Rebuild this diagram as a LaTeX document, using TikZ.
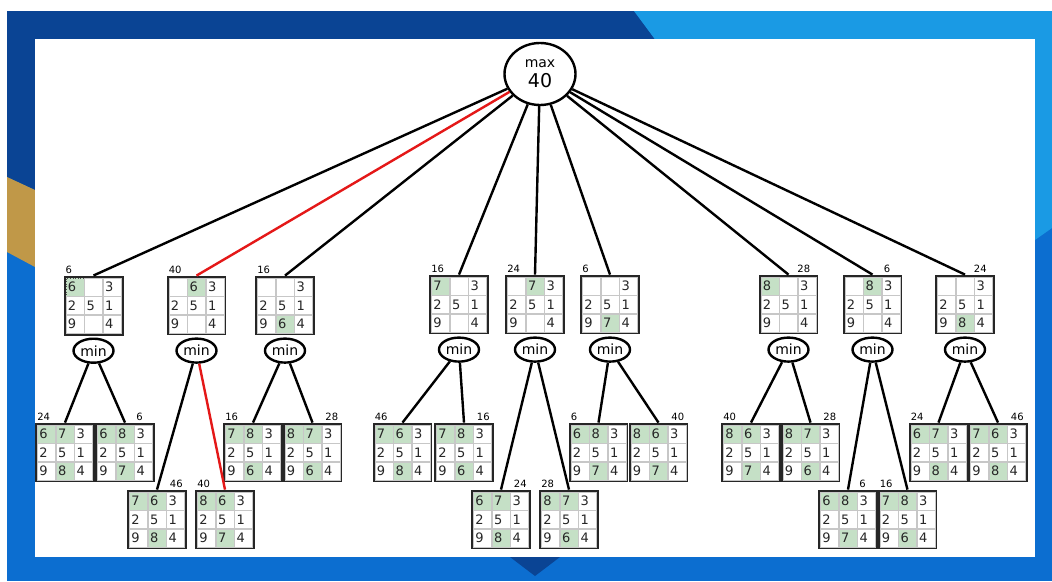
\documentclass[tikz,border=0pt]{standalone}
\usepackage{fontspec}
\setmainfont{DejaVu Sans}
\usetikzlibrary{shapes.geometric,matrix,positioning}

\definecolor{slidenavy}{RGB}{10,68,148}
\definecolor{slideblue}{RGB}{12,110,208}
\definecolor{slidesky}{RGB}{26,154,228}
\definecolor{slidegold}{RGB}{192,152,72}
\definecolor{cellgreen}{RGB}{197,224,198}
\definecolor{pathred}{RGB}{228,24,24}

\begin{document}
\begin{tikzpicture}[x=1pt,y=-1pt,
    link/.style={line width=2.4pt,black},
    max node/.style={ellipse,draw,line width=2.4pt,minimum width=71pt,minimum height=62pt,inner sep=0pt,align=center},
    min node/.style={ellipse,draw,line width=2.4pt,minimum width=40pt,minimum height=24pt,inner sep=0pt,
      font=\fontsize{14}{14}\selectfont},
    board/.style={matrix of nodes,nodes in empty cells,draw=black!85,line width=2pt,inner sep=1pt,
      column sep=0pt,row sep=0pt,nodes={cell}},
    cell/.style={draw=black!22,line width=0.6pt,anchor=center,outer sep=0pt,inner xsep=2pt,inner ysep=0pt,
      text width=14pt,text height=9.5pt,text depth=0pt,minimum height=18pt,align=left,
      font=\fontsize{13}{13}\selectfont,text=black!85},
    moved/.style={fill=cellgreen},
    picked/.style={fill=cellgreen,draw=black!70,dotted,line width=0.8pt},
    score/.style={inner sep=2pt,font=\fontsize{10}{10}\selectfont}]

    \useasboundingbox (0,0) rectangle (1052,581);
    \fill[white] (0,0) rectangle (1052,581);
    \fill[slideblue] (7,11) rectangle (1052,581);
    \fill[slidenavy] (7,11) -- (634,11) -- (700,100) -- (35,100) -- (35,190) -- (7,177) -- cycle;
    \fill[slidegold] (7,177) -- (35,190) -- (35,267) -- (7,252) -- cycle;
    \fill[slidesky] (634,11) -- (1052,11) -- (1052,228) -- (1035,240) -- (1035,100) -- (700,100) -- cycle;
    \fill[slidenavy] (510,557) -- (560,557) -- (535,576) -- cycle;
    \fill[white] (35,39) rectangle (1035,557);

    \node[max node] (Root) at (540,74) {\fontsize{14}{14}\selectfont max\\[5pt]\fontsize{19}{19}\selectfont 40};

    \matrix[board] (FirstMoveA) at (93.5,305.5) {|[picked]| 6 & & 3 \\ 2 & 5 & 1 \\ 9 & & 4 \\};
    \matrix[board] (FirstMoveB) at (196.5,305.5) { & |[moved]| 6 & 3 \\ 2 & 5 & 1 \\ 9 & & 4 \\};
    \matrix[board] (FirstMoveC) at (285,305.5) { & & 3 \\ 2 & 5 & 1 \\ 9 & |[moved]| 6 & 4 \\};
    \matrix[board] (FirstMoveD) at (459,304.5) {|[moved]| 7 & & 3 \\ 2 & 5 & 1 \\ 9 & & 4 \\};
    \matrix[board] (FirstMoveE) at (535,304.5) { & |[moved]| 7 & 3 \\ 2 & 5 & 1 \\ 9 & & 4 \\};
    \matrix[board] (FirstMoveF) at (610,304.5) { & & 3 \\ 2 & 5 & 1 \\ 9 & |[moved]| 7 & 4 \\};
    \matrix[board] (FirstMoveG) at (788.5,304.5) {|[moved]| 8 & & 3 \\ 2 & 5 & 1 \\ 9 & & 4 \\};
    \matrix[board] (FirstMoveH) at (872.5,304.5) { & |[moved]| 8 & 3 \\ 2 & 5 & 1 \\ 9 & & 4 \\};
    \matrix[board] (FirstMoveI) at (965,304.5) { & & 3 \\ 2 & 5 & 1 \\ 9 & |[moved]| 8 & 4 \\};

    \node[score] (ScoreFirstA) [above right=0pt of FirstMoveA.north west] {6};
    \node[score] (ScoreFirstB) [above right=0pt of FirstMoveB.north west] {40};
    \node[score] (ScoreFirstC) [above right=0pt of FirstMoveC.north west] {16};
    \node[score] (ScoreFirstD) [above right=0pt of FirstMoveD.north west] {16};
    \node[score] (ScoreFirstE) [above right=0pt of FirstMoveE.north west] {24};
    \node[score] (ScoreFirstF) [above right=0pt of FirstMoveF.north west] {6};
    \node[score] (ScoreFirstG) [above left=0pt and 6pt of FirstMoveG.north east] {28};
    \node[score] (ScoreFirstH) [above left=0pt and 10pt of FirstMoveH.north east] {6};
    \node[score] (ScoreFirstI) [above left=0pt and 6pt of FirstMoveI.north east] {24};

    \node[min node] (MinA) [below=2pt of FirstMoveA] {min};
    \node[min node] (MinB) [below=2pt of FirstMoveB] {min};
    \node[min node] (MinC) [below=2pt of FirstMoveC] {min};
    \node[min node] (MinD) [below=2pt of FirstMoveD] {min};
    \node[min node] (MinE) [below=2pt of FirstMoveE] {min};
    \node[min node] (MinF) [below=2pt of FirstMoveF] {min};
    \node[min node] (MinG) [below=2pt of FirstMoveG] {min};
    \node[min node] (MinH) [below=2pt of FirstMoveH] {min};
    \node[min node] (MinI) [below=2pt of FirstMoveI] {min};

    \matrix[board] (ReplyAOne) at (65,452.5) {|[moved]| 6 & |[moved]| 7 & 3 \\ 2 & 5 & 1 \\ 9 & |[moved]| 8 & 4 \\};
    \matrix[board] (ReplyATwo) at (125,452.5) {|[moved]| 6 & |[moved]| 8 & 3 \\ 2 & 5 & 1 \\ 9 & |[moved]| 7 & 4 \\};
    \matrix[board] (ReplyBOne) at (157,519.5) {|[moved]| 7 & |[moved]| 6 & 3 \\ 2 & 5 & 1 \\ 9 & |[moved]| 8 & 4 \\};
    \matrix[board] (ReplyBTwo) at (225,519.5) {|[moved]| 8 & |[moved]| 6 & 3 \\ 2 & 5 & 1 \\ 9 & |[moved]| 7 & 4 \\};
    \matrix[board] (ReplyCOne) at (253,452.5) {|[moved]| 7 & |[moved]| 8 & 3 \\ 2 & 5 & 1 \\ 9 & |[moved]| 6 & 4 \\};
    \matrix[board] (ReplyCTwo) at (312.5,452.5) {|[moved]| 8 & |[moved]| 7 & 3 \\ 2 & 5 & 1 \\ 9 & |[moved]| 6 & 4 \\};
    \matrix[board] (ReplyDOne) at (402.5,452.5) {|[moved]| 7 & |[moved]| 6 & 3 \\ 2 & 5 & 1 \\ 9 & |[moved]| 8 & 4 \\};
    \matrix[board] (ReplyDTwo) at (464,452.5) {|[moved]| 7 & |[moved]| 8 & 3 \\ 2 & 5 & 1 \\ 9 & |[moved]| 6 & 4 \\};
    \matrix[board] (ReplyEOne) at (501,519.5) {|[moved]| 6 & |[moved]| 7 & 3 \\ 2 & 5 & 1 \\ 9 & |[moved]| 8 & 4 \\};
    \matrix[board] (ReplyETwo) at (569,519.5) {|[moved]| 8 & |[moved]| 7 & 3 \\ 2 & 5 & 1 \\ 9 & |[moved]| 6 & 4 \\};
    \matrix[board] (ReplyFOne) at (598.5,452.5) {|[moved]| 6 & |[moved]| 8 & 3 \\ 2 & 5 & 1 \\ 9 & |[moved]| 7 & 4 \\};
    \matrix[board] (ReplyFTwo) at (658.5,452.5) {|[moved]| 8 & |[moved]| 6 & 3 \\ 2 & 5 & 1 \\ 9 & |[moved]| 7 & 4 \\};
    \matrix[board] (ReplyGOne) at (751,452.5) {|[moved]| 8 & |[moved]| 6 & 3 \\ 2 & 5 & 1 \\ 9 & |[moved]| 7 & 4 \\};
    \matrix[board] (ReplyGTwo) at (810.5,452.5) {|[moved]| 8 & |[moved]| 7 & 3 \\ 2 & 5 & 1 \\ 9 & |[moved]| 6 & 4 \\};
    \matrix[board] (ReplyHOne) at (848,519.5) {|[moved]| 6 & |[moved]| 8 & 3 \\ 2 & 5 & 1 \\ 9 & |[moved]| 7 & 4 \\};
    \matrix[board] (ReplyHTwo) at (907.5,519.5) {|[moved]| 7 & |[moved]| 8 & 3 \\ 2 & 5 & 1 \\ 9 & |[moved]| 6 & 4 \\};
    \matrix[board] (ReplyIOne) at (938.5,452.5) {|[moved]| 6 & |[moved]| 7 & 3 \\ 2 & 5 & 1 \\ 9 & |[moved]| 8 & 4 \\};
    \matrix[board] (ReplyITwo) at (998,452.5) {|[moved]| 7 & |[moved]| 6 & 3 \\ 2 & 5 & 1 \\ 9 & |[moved]| 8 & 4 \\};

    \node[score] (ScoreAOne) [above right=0pt of ReplyAOne.north west] {24};
    \node[score] (ScoreATwo) [above left=0pt and 10pt of ReplyATwo.north east] {6};
    \node[score] (ScoreBOne) [above left=0pt and 2pt of ReplyBOne.north east] {46};
    \node[score] (ScoreBTwo) [above right=0pt of ReplyBTwo.north west] {40};
    \node[score] (ScoreCOne) [above right=0pt of ReplyCOne.north west] {16};
    \node[score] (ScoreCTwo) [above left=0pt and 2pt of ReplyCTwo.north east] {28};
    \node[score] (ScoreDOne) [above right=0pt of ReplyDOne.north west] {46};
    \node[score] (ScoreDTwo) [above left=0pt and 2pt of ReplyDTwo.north east] {16};
    \node[score] (ScoreEOne) [above left=0pt and 2pt of ReplyEOne.north east] {24};
    \node[score] (ScoreETwo) [above right=0pt of ReplyETwo.north west] {28};
    \node[score] (ScoreFOne) [above right=0pt of ReplyFOne.north west] {6};
    \node[score] (ScoreFTwo) [above left=0pt and 2pt of ReplyFTwo.north east] {40};
    \node[score] (ScoreGOne) [above right=0pt of ReplyGOne.north west] {40};
    \node[score] (ScoreGTwo) [above left=0pt and 2pt of ReplyGTwo.north east] {28};
    \node[score] (ScoreHOne) [above left=0pt and 10pt of ReplyHOne.north east] {6};
    \node[score] (ScoreHTwo) [above right=0pt of ReplyHTwo.north west] {16};
    \node[score] (ScoreIOne) [above right=0pt of ReplyIOne.north west] {24};
    \node[score] (ScoreITwo) [above left=0pt and 2pt of ReplyITwo.north east] {46};

    \draw [link] (Root) edge (FirstMoveA.north) (Root) edge [pathred] (FirstMoveB.north) (Root) edge (FirstMoveC.north);
    \draw [link] (Root) edge (FirstMoveD.north) (Root) edge (FirstMoveE.north) (Root) edge (FirstMoveF.north);
    \draw [link] (Root) edge (FirstMoveG.north) (Root) edge (FirstMoveH.north) (Root) edge (FirstMoveI.north);

    \draw [link] (MinA) edge (ReplyAOne.north) (MinA) edge (ReplyATwo.north);
    \draw [link] (MinB) edge (ReplyBOne.north) (MinB) edge [pathred] (ReplyBTwo.north);
    \draw [link] (MinC) edge (ReplyCOne.north) (MinC) edge (ReplyCTwo.north);
    \draw [link] (MinD) edge (ReplyDOne.north) (MinD) edge (ReplyDTwo.north);
    \draw [link] (MinE) edge (ReplyEOne.north) (MinE) edge (ReplyETwo.north);
    \draw [link] (MinF) edge (ReplyFOne.north) (MinF) edge (ReplyFTwo.north);
    \draw [link] (MinG) edge (ReplyGOne.north) (MinG) edge (ReplyGTwo.north);
    \draw [link] (MinH) edge (ReplyHOne.north) (MinH) edge (ReplyHTwo.north);
    \draw [link] (MinI) edge (ReplyIOne.north) (MinI) edge (ReplyITwo.north);
\end{tikzpicture}
\end{document}
